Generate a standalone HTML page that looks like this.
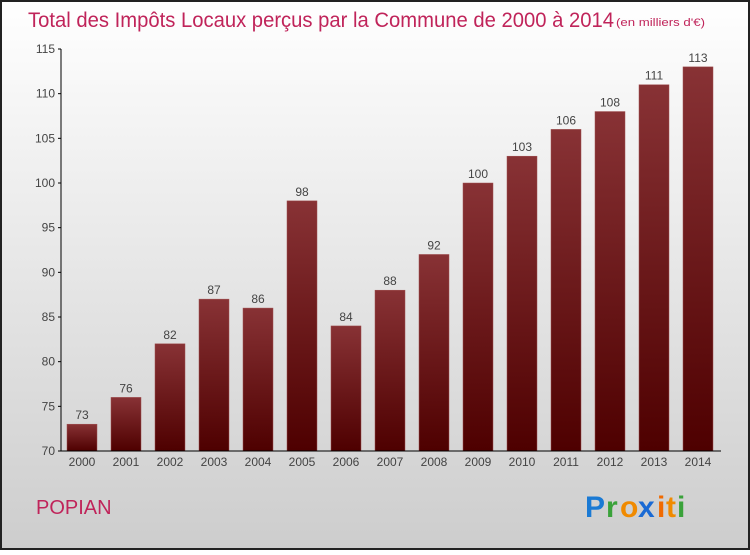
<!DOCTYPE html>
<html><head><meta charset="utf-8"><style>
body{margin:0;width:750px;height:550px;overflow:hidden;font-family:"Liberation Sans",sans-serif}
</style></head><body>
<svg width="750" height="550" xmlns="http://www.w3.org/2000/svg">
<defs>
<linearGradient id="bg" x1="0" y1="0" x2="0" y2="1"><stop offset="0" stop-color="#ffffff"/><stop offset="1" stop-color="#cdcdcd"/></linearGradient>
<linearGradient id="bar" x1="0" y1="0" x2="0" y2="1"><stop offset="0" stop-color="#883235"/><stop offset="1" stop-color="#4e0000"/></linearGradient>
</defs>
<rect x="1" y="1" width="748" height="548" fill="url(#bg)" stroke="#222" stroke-width="2"/>
<text x="28" y="27" font-size="21" fill="#c0245a" textLength="586" lengthAdjust="spacingAndGlyphs">Total des Impôts Locaux perçus par la Commune de 2000 à 2014</text>
<text x="616" y="26" font-size="11" fill="#c0245a" textLength="89" lengthAdjust="spacingAndGlyphs">(en milliers d'€)</text>
<g id="yaxis"></g>
<g id="bars"></g>
<g id="xaxis"></g>
<text x="36" y="514" font-size="20" fill="#c0245a">POPIAN</text>
<g font-size="30" font-weight="bold" font-family="'Liberation Sans',sans-serif">
<text x="585" y="517" fill="#1a7ad4">P</text><text x="606" y="517" fill="#3aa23a">r</text><text x="620" y="517" fill="#f08a00">o</text><text x="638" y="517" fill="#1a6ad4">x</text><text x="657" y="517" fill="#f06a00">i</text><text x="666" y="517" fill="#f08a00">t</text><text x="677" y="517" fill="#3aa23a">i</text>
</g>
</svg>
<script>
const years=["2000","2001","2002","2003","2004","2005","2006","2007","2008","2009","2010","2011","2012","2013","2014"];
const values=[73,76,82,87,86,98,84,88,92,100,103,106,108,111,113];
const yTicks=[70,75,80,85,90,95,100,105,110,115];
const NS="http://www.w3.org/2000/svg";
const y0=451,yMin=70,yMax=115,yTop=49;
function yScale(v){return y0-(v-yMin)*(y0-yTop)/(yMax-yMin);}
function xScale(i){return 82+i*44;}
function mk(tag,attrs,parent,txt){const e=document.createElementNS(NS,tag);for(const k in attrs)e.setAttribute(k,attrs[k]);if(txt!==undefined)e.textContent=txt;parent.appendChild(e);return e;}
const ya=document.getElementById('yaxis'),ba=document.getElementById('bars'),xa=document.getElementById('xaxis');
mk('line',{x1:61,y1:yTop,x2:61,y2:y0,stroke:'#000'},ya);
yTicks.forEach(t=>{const y=yScale(t);
 mk('line',{x1:58,y1:y,x2:61,y2:y,stroke:'#000'},ya);
 const l=mk('text',{x:55,y:y+4,'font-size':12,fill:'#444','text-anchor':'end'},ya,String(t));
 
 
});
mk('line',{x1:61,y1:y0,x2:721,y2:y0,stroke:'#000'},xa);
values.forEach((v,i)=>{const cx=xScale(i),y=yScale(v);
 const r=mk('rect',{x:cx-15,y:y,width:30,height:y0-y,fill:'url(#bar)',stroke:'#a05050','stroke-width':0.5},ba);
 
 
 const t=mk('text',{x:cx,y:y-5,'font-size':12,fill:'#444','text-anchor':'middle'},ba,String(v));
 
 
 const xl=mk('text',{x:cx,y:466,'font-size':12,fill:'#444','text-anchor':'middle'},xa,years[i]);
 
 
});
</script>
</body></html>
